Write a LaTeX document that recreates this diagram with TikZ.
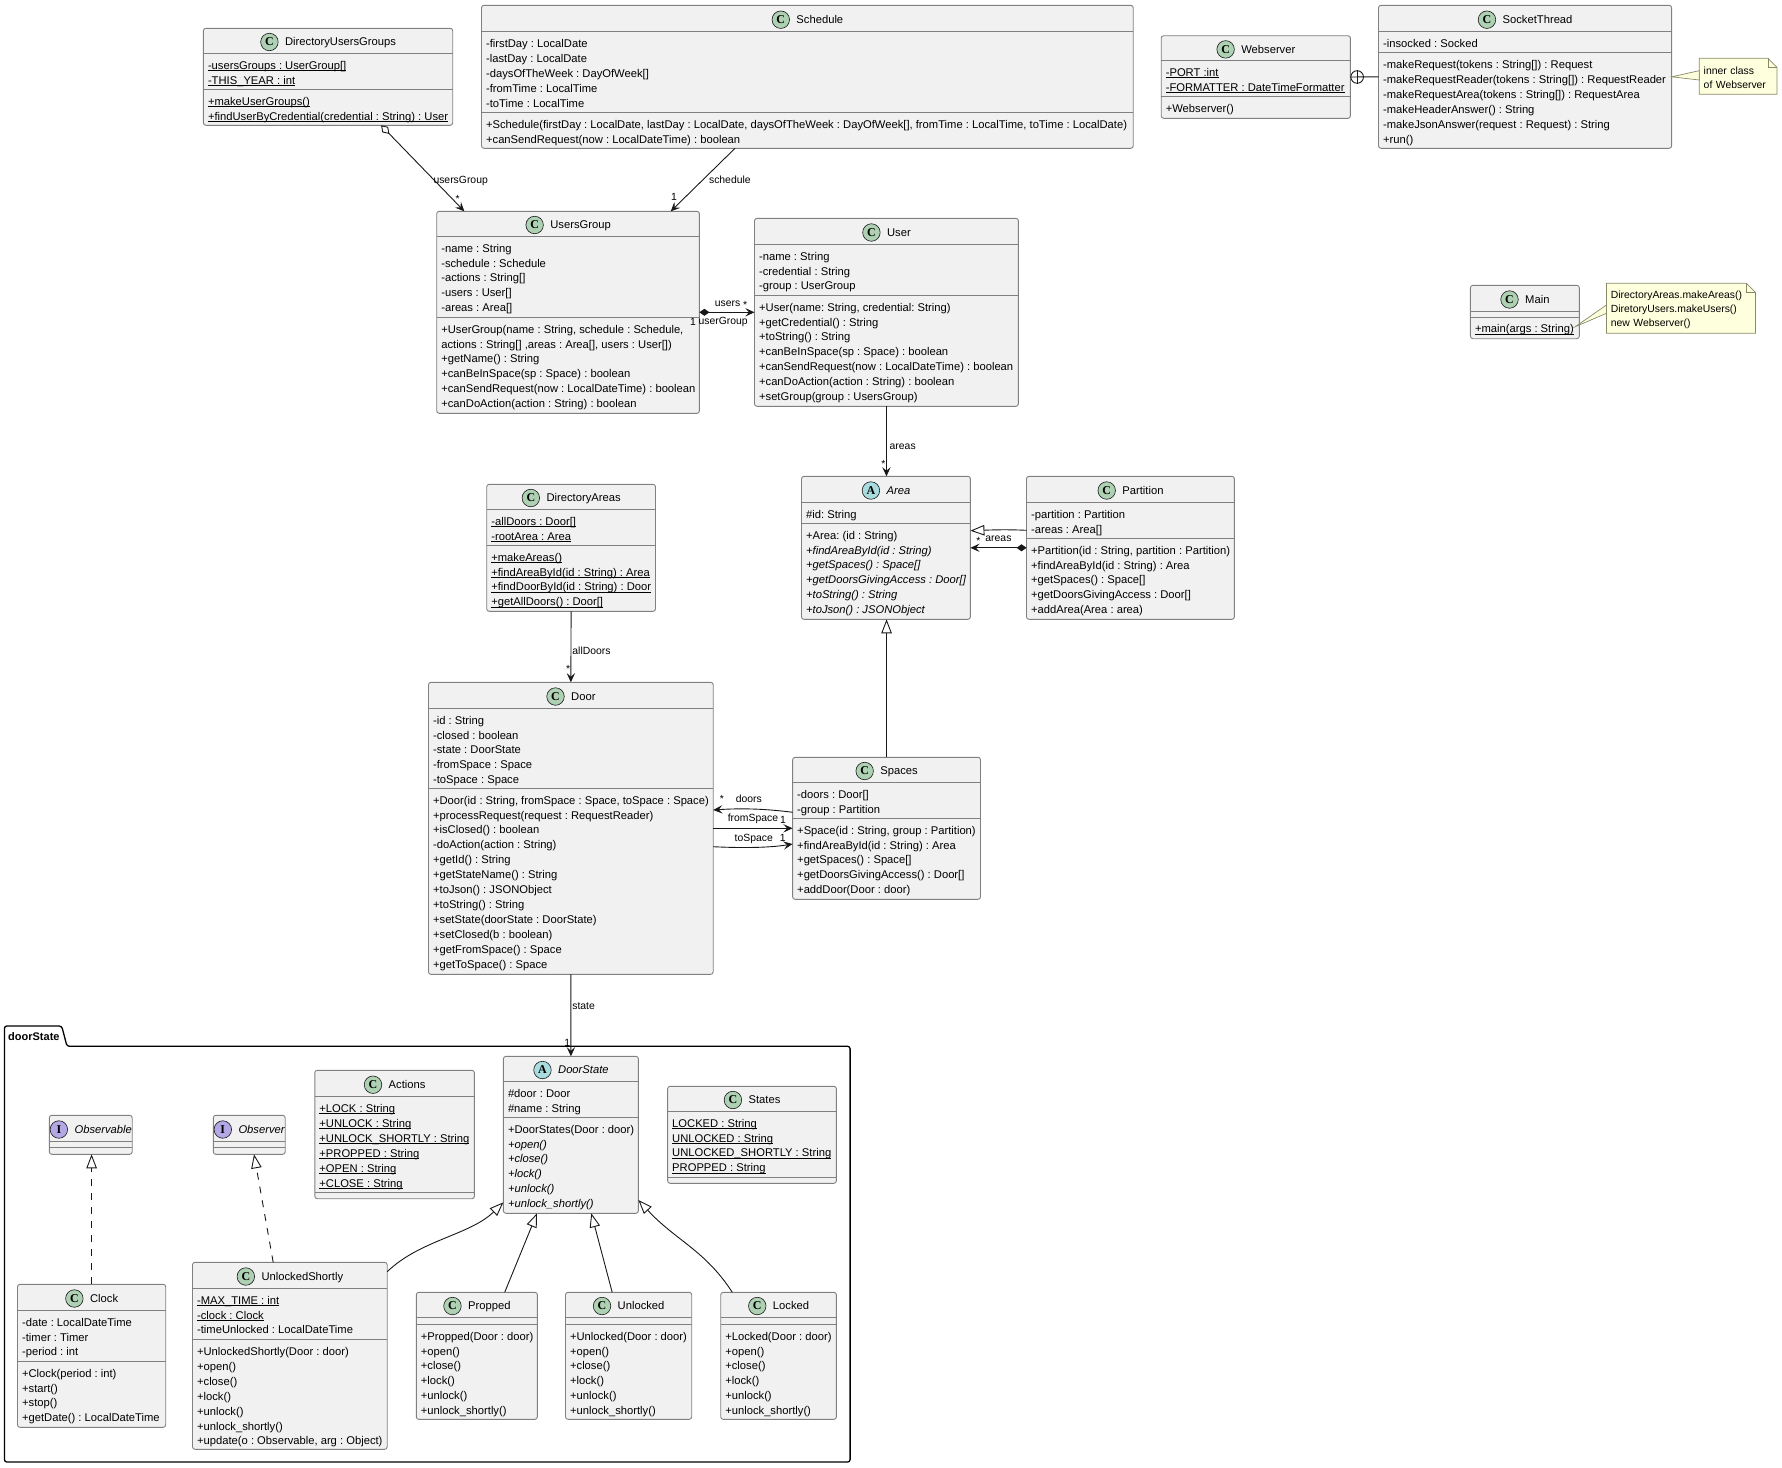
\documentclass[tikz,border=0pt]{standalone}
\usepackage{fontspec}
\setmainfont{Liberation Sans}
\newfontfamily\badgefont{Liberation Serif}
\usetikzlibrary{arrows.meta,positioning,calc}

\definecolor{classfill}{HTML}{F1F1F1}
\definecolor{classedge}{HTML}{808080}
\definecolor{wireblack}{HTML}{181818}
\definecolor{notefill}{HTML}{FEFFDD}
\definecolor{notedge}{HTML}{8A8A6A}
\definecolor{badgegreen}{HTML}{ADD1B2}
\definecolor{badgeblue}{HTML}{A9DCDF}
\definecolor{badgeviolet}{HTML}{B4A7E5}

\newcommand{\classfont}{\frenchspacing\fontsize{11.21}{14.9}\selectfont}
\newcommand{\wirefont}{\frenchspacing\fontsize{10.4}{13.8}\selectfont}
\newcommand{\undertext}[1]{\setbox0\hbox{#1}\rlap{\rule[-1.7pt]{\wd0}{.8pt}}\box0}

\tikzset{
  classbox/.style={draw=classedge, fill=classfill, line width=.9pt, rounded corners=2.5pt, inner sep=0pt, outer sep=0pt},
  classrule/.style={draw=classedge, line width=.9pt},
  classtitle/.style={font=\classfont, inner sep=0pt, text height=8pt, text depth=2.5pt},
  classrow/.style={font=\classfont, align=left, inner sep=0pt, anchor=north west},
  classbadge/.style={circle, draw=wireblack, line width=.6pt, minimum size=17.5pt, inner sep=0pt, font=\badgefont\bfseries\fontsize{12}{12}\selectfont},
  badgeC/.style={classbadge, fill=badgegreen},
  badgeA/.style={classbadge, fill=badgeblue},
  badgeI/.style={classbadge, fill=badgeviolet},
  lbl/.style={font=\wirefont, inner sep=0pt, text height=7.5pt, text depth=2pt},
  wire/.style={draw=wireblack, line width=.9pt},
  assoc/.style={wire, -{Stealth[length=9.2pt,width=8.3pt,inset=3.7pt]}},
  compose/.style={wire, {Diamond[length=10pt,width=7pt]}-{Stealth[length=9.2pt,width=8.3pt,inset=3.7pt]}},
  aggreg/.style={wire, {Diamond[open,length=12pt,width=8pt]}-{Stealth[length=9.2pt,width=8.3pt,inset=3.7pt]}},
  extends/.style={wire, -{Triangle[open,length=14pt,width=10.5pt]}},
  realize/.style={extends, dash pattern=on 7pt off 7pt},
  notebox/.style={draw=notedge, fill=notefill, line width=.7pt},
  notetext/.style={font=\wirefont, align=left, inner sep=4.5pt, outer sep=0pt, anchor=north west},
}

% name, left, top, right, bottom, first rule, second rule, badge, title
\newcommand{\umlclass}[9]{
  \node[classbox, minimum width=#4pt-#2pt, minimum height=#5pt-#3pt] (#1) at ({(#2+#4)/2},{(#3+#5)/2}) {};
  \draw[classrule] (#2,#6) -- (#4,#6);
  \draw[classrule] (#2,#7) -- (#4,#7);
  \coordinate (#1-s1) at (#2,#6);
  \coordinate (#1-s2) at (#2,#7);
  \node[classtitle] (#1-title) at ({(#2+#4)/2+12.5},{(#3+#6)/2+2.4}) {#9};
  \node[badge#8, xshift=-15.5pt, yshift=1.2pt] (#1-badge) at (#1-title.west) {#8};
}
% name, attributes, methods
\newcommand{\members}[3]{
  \node[classrow] (#1-attrs) at ([xshift=4.4pt,yshift=-5.1pt]#1-s1) {\rule{0pt}{10.5pt}#2};
  \node[classrow] (#1-meths) at ([xshift=4.4pt,yshift=-5.1pt]#1-s2) {\rule{0pt}{10.5pt}#3};
}
% name, left, top, right, bottom, text
\newcommand{\umlnote}[6]{
  \path[notebox] (#2,#3) -- ({#4-9},#3) -- (#4,{#3+9}) -- (#4,#5) -- (#2,#5) -- cycle;
  \draw[notebox, fill=none] ({#4-9},#3) -- ({#4-9},{#3+9}) -- (#4,{#3+9});
  \node[notetext, text width=#4pt-#2pt-9pt, minimum height=#5pt-#3pt] (#1) at (#2,#3) {\rule{0pt}{10.8pt}#6};
}

\begin{document}
\begin{tikzpicture}[x=1pt, y=-1pt]
\useasboundingbox (0,0) rectangle (1782,1467);

% package
\draw[line width=1.3pt, rounded corners=2.5pt] (4.4,1462) -- (4.4,1026) -- (61.7,1026) -- (67,1046.3) -- (850.1,1046.3) -- (850.1,1462) -- cycle;
\node[font=\bfseries\fontsize{11}{13}\selectfont, inner sep=0pt, anchor=base west] (doorStatePkg) at (8,1040) {doorState};

% classes
\umlclass{directoryUsersGroups}{203.4}{28.3}{452.7}{125.3}{53.3}{89.3}{C}{DirectoryUsersGroups}
\members{directoryUsersGroups}{\undertext{-usersGroups : UserGroup[]}\\\undertext{-THIS\_YEAR : int}}{\undertext{+makeUserGroups()}\\\undertext{+findUserByCredential(credential : String) : User}}

\umlclass{schedule}{481.5}{5.3}{1133.2}{148.3}{31.7}{112.3}{C}{Schedule}
\members{schedule}{-firstDay : LocalDate\\-lastDay : LocalDate\\-daysOfTheWeek : DayOfWeek[]\\-fromTime : LocalTime\\-toTime : LocalTime}{+Schedule(firstDay : LocalDate, lastDay : LocalDate, daysOfTheWeek : DayOfWeek[], fromTime : LocalTime, toTime : LocalDate)\\+canSendRequest(now : LocalDateTime) : boolean}

\umlclass{usersGroup}{436.7}{211.3}{699.4}{413.3}{236.3}{317.3}{C}{UsersGroup}
\members{usersGroup}{-name : String\\-schedule : Schedule\\-actions : String[]\\-users : User[]\\-areas : Area[]}{+UserGroup(name : String, schedule : Schedule,\\actions : String[] ,areas : Area[], users : User[])\\+getName() : String\\+canBeInSpace(sp : Space) : boolean\\+canSendRequest(now : LocalDateTime) : boolean\\+canDoAction(action : String) : boolean}

\umlclass{user}{754.5}{218.3}{1018.4}{406.3}{244.3}{295.3}{C}{User}
\members{user}{-name : String\\-credential : String\\-group : UserGroup}{+User(name: String, credential: String)\\+getCredential() : String\\+toString() : String\\+canBeInSpace(sp : Space) : boolean\\+canSendRequest(now : LocalDateTime) : boolean\\+canDoAction(action : String) : boolean\\+setGroup(group : UsersGroup)}

\umlclass{webserver}{1161.2}{35.7}{1350.4}{118.3}{60.7}{96.7}{C}{Webserver}
\members{webserver}{\undertext{-PORT :int}\\\undertext{-FORMATTER : DateTimeFormatter}}{+Webserver()}

\umlclass{socketThread}{1378.5}{5.3}{1671.6}{148.3}{31.7}{52.7}{C}{SocketThread}
\members{socketThread}{-insocked : Socked}{-makeRequest(tokens : String[]) : Request\\-makeRequestReader(tokens : String[]) : RequestReader\\-makeRequestArea(tokens : String[]) : RequestArea\\-makeHeaderAnswer() : String\\-makeJsonAnswer(request : Request) : String\\+run()}

\umlclass{mainClass}{1470.4}{285.3}{1579.3}{338.7}{311.3}{317}{C}{Main}
\members{mainClass}{}{\undertext{+main(args : String)}}

\umlclass{directoryAreas}{486.7}{484.3}{655.5}{611.3}{509.3}{545.3}{C}{DirectoryAreas}
\members{directoryAreas}{\undertext{-allDoors : Door[]}\\\undertext{-rootArea : Area}}{\undertext{+makeAreas()}\\\undertext{+findAreaById(id : String) : Area}\\\undertext{+findDoorById(id : String) : Door}\\\undertext{+getAllDoors() : Door[]}}

\umlclass{area}{801.5}{476.3}{970.4}{619.3}{502.3}{523.3}{A}{\textit{Area}}
\members{area}{\#id: String}{+Area: (id : String)\\\textit{+findAreaById(id : String)}\\\textit{+getSpaces() : Space[]}\\\textit{+getDoorsGivingAccess : Door[]}\\\textit{+toString() : String}\\\textit{+toJson() : JSONObject}}

\umlclass{partition}{1026.5}{476.3}{1234.4}{619.3}{502.3}{538.3}{C}{Partition}
\members{partition}{-partition : Partition\\-areas : Area[]}{+Partition(id : String, partition : Partition)\\+findAreaById(id : String) : Area\\+getSpaces() : Space[]\\+getDoorsGivingAccess : Door[]\\+addArea(Area : area)}

\umlclass{door}{428.5}{682.3}{713.2}{974.3}{708.3}{788.3}{C}{Door}
\members{door}{-id : String\\-closed : boolean\\-state : DoorState\\-fromSpace : Space\\-toSpace : Space}{+Door(id : String, fromSpace : Space, toSpace : Space)\\+processRequest(request : RequestReader)\\+isClosed() : boolean\\-doAction(action : String)\\+getId() : String\\+getStateName() : String\\+toJson() : JSONObject\\+toString() : String\\+setState(doorState : DoorState)\\+setClosed(b : boolean)\\+getFromSpace() : Space\\+getToSpace() : Space}

\umlclass{spaces}{792.6}{757.3}{980.5}{899.3}{782.3}{818.3}{C}{Spaces}
\members{spaces}{-doors : Door[]\\-group : Partition}{+Space(id : String, group : Partition)\\+findAreaById(id : String) : Area\\+getSpaces() : Space[]\\+getDoorsGivingAccess() : Door[]\\+addDoor(Door : door)}

\umlclass{doorStateCls}{503.4}{1056.3}{638.4}{1213.3}{1081.3}{1117.3}{A}{\textit{DoorState}}
\members{doorStateCls}{\#door : Door\\\#name : String}{+DoorStates(Door : door)\\\textit{+open()}\\\textit{+close()}\\\textit{+lock()}\\\textit{+unlock()}\\\textit{+unlock\_shortly()}}

\umlclass{actions}{314.8}{1070.3}{474.4}{1198.7}{1096.7}{1192.3}{C}{Actions}
\members{actions}{\undertext{+LOCK : String}\\\undertext{+UNLOCK : String}\\\undertext{+UNLOCK\_SHORTLY : String}\\\undertext{+PROPPED : String}\\\undertext{+OPEN : String}\\\undertext{+CLOSE : String}}{}

\umlclass{states}{667.6}{1086.3}{836.4}{1183.3}{1111.3}{1177.3}{C}{States}
\members{states}{\undertext{LOCKED : String}\\\undertext{UNLOCKED : String}\\\undertext{UNLOCKED\_SHORTLY : String}\\\undertext{PROPPED : String}}{}

\umlclass{observable}{49.3}{1115.3}{132.2}{1154.3}{1141.3}{1147.3}{I}{\textit{Observable}}
\umlclass{observer}{213.3}{1115.3}{285.2}{1154.3}{1141.3}{1147.3}{I}{\textit{Observer}}

\umlclass{clock}{17.5}{1284.3}{165.7}{1427.3}{1310.3}{1361.3}{C}{Clock}
\members{clock}{-date : LocalDateTime\\-timer : Timer\\-period : int}{+Clock(period : int)\\+start()\\+stop()\\+getDate() : LocalDateTime}

\umlclass{unlockedShortly}{192.5}{1262.3}{387.2}{1449.3}{1288.3}{1339.7}{C}{UnlockedShortly}
\members{unlockedShortly}{\undertext{-MAX\_TIME : int}\\\undertext{-clock : Clock}\\-timeUnlocked : LocalDateTime}{+UnlockedShortly(Door : door)\\+open()\\+close()\\+lock()\\+unlock()\\+unlock\_shortly()\\+update(o : Observable, arg : Object)}

\umlclass{propped}{416.3}{1292.3}{537.4}{1419.3}{1317.3}{1324.3}{C}{Propped}
\members{propped}{}{+Propped(Door : door)\\+open()\\+close()\\+lock()\\+unlock()\\+unlock\_shortly()}

\umlclass{unlocked}{565.5}{1292.3}{691.7}{1419.3}{1317.3}{1324.3}{C}{Unlocked}
\members{unlocked}{}{+Unlocked(Door : door)\\+open()\\+close()\\+lock()\\+unlock()\\+unlock\_shortly()}

\umlclass{locked}{720.7}{1292.3}{836.4}{1419.3}{1317.3}{1324.3}{C}{Locked}
\members{locked}{}{+Locked(Door : door)\\+open()\\+close()\\+lock()\\+unlock()\\+unlock\_shortly()}

% notes
\umlnote{innerNote}{1699.2}{58.3}{1777}{94.3}{inner class\\of Webserver}
\umlnote{mainNote}{1606.4}{283.3}{1755.5}{333.3}{DirectoryAreas.makeAreas()\\DiretoryUsers.makeUsers()\\new Webserver()}
\draw[notebox] (socketThread.east) -- ([yshift=5.6pt]innerNote.west) -- ([yshift=-3.7pt]innerNote.west) -- cycle;
\draw[notebox] ([shift={(-4pt,-14.7pt)}]mainClass.east) -- ([yshift=3.3pt]mainNote.west) -- ([yshift=-5pt]mainNote.west) -- cycle;

% connectors
\draw[aggreg] ([xshift=53pt]directoryUsersGroups.south) -- ([xshift=-103.7pt]usersGroup.north)
  node[lbl, right=-1.8pt, pos=.646] (lblUsersGroup) {usersGroup}
  node[lbl, right=2.5pt, pos=.86] (lblUsersGroupN) {*};
\draw[assoc] ([xshift=-72.35pt]schedule.south) -- ([xshift=102.7pt]usersGroup.north)
  node[lbl, right=6.5pt, pos=.512] (lblSchedule) {schedule}
  node[lbl, left=7pt, pos=.79] (lblScheduleN) {1};
\draw[compose] (usersGroup.east) -- (user.west)
  node[lbl, above=3.5pt, pos=.51] (lblUsers) {users}
  node[lbl, above=1pt, pos=.83] (lblUsersN) {*}
  node[lbl, below=4.65pt, pos=.43] (lblUserGroup) {userGroup}
  node[lbl, below=5.6pt, pos=0, xshift=-6.4pt] (lblUserGroupN) {1};
\draw[assoc] (user.south) -- (user.south |- area.north)
  node[lbl, right=2.8pt, pos=.577] (lblAreas) {areas}
  node[lbl, left=.5pt, pos=.84] (lblAreasN) {*};
\draw[assoc] (directoryAreas.south) -- (door.north)
  node[lbl, right=1pt, pos=.57] (lblAllDoors) {allDoors}
  node[lbl, left=.2pt, pos=.83] (lblAllDoorsN) {*};
\draw[extends] ([yshift=17.5pt]partition.west) .. controls (1005,529.3) and (990,530) .. ([yshift=17.1pt]area.east);
\draw[compose] (partition.west) -- (area.east)
  node[lbl, above=3.75pt, pos=.5] (lblSubAreas) {areas}
  node[lbl, above=.55pt, pos=.856] (lblSubAreasN) {*};
\draw[extends] (spaces.north) -- (spaces.north |- area.south);
\draw[assoc] ([yshift=16pt]spaces.west) .. controls (760,808) and (735,808.5) .. ([yshift=18.3pt]door.east)
  node[lbl, above=4.35pt, pos=.5] (lblDoors) {doors}
  node[lbl, above=4.35pt, pos=.87] (lblDoorsN) {*};
\draw[assoc] (door.east) -- (spaces.west)
  node[lbl, above=4.25pt, pos=.5] (lblFromSpace) {fromSpace}
  node[lbl, above=2.55pt, pos=.88] (lblFromSpaceN) {1};
\draw[assoc] ([yshift=-18.4pt]door.east) .. controls (740,848) and (768,848) .. ([yshift=-15.7pt]spaces.west)
  node[lbl, above=3.35pt, pos=.5] (lblToSpace) {toSpace}
  node[lbl, above=1.25pt, pos=.87] (lblToSpaceN) {1};
\draw[assoc] (door.south) -- (doorStateCls.north)
  node[lbl, right=1pt, pos=.4] (lblState) {state}
  node[lbl, left=.3pt, pos=.85] (lblStateN) {1};

\node[circle, draw=wireblack, line width=.9pt, minimum size=12.6pt, inner sep=0pt, right=0pt of webserver] (nest) {};
\draw[wire] (nest.north) -- (nest.south);
\draw[wire] (nest.west) -- (socketThread.west);

\draw[realize] (clock.north) -- (clock.north |- observable.south);
\draw[realize] ([xshift=-16.65pt]unlockedShortly.north) -- ([xshift=4.75pt]observer.south);
\draw[extends] ([yshift=-9.4pt]unlockedShortly.north east) .. controls (420,1240) and (470,1235) .. ([yshift=11pt]doorStateCls.south west);
\draw[extends] ([xshift=27.85pt]propped.north) -- ([xshift=-33.9pt]doorStateCls.south);
\draw[extends] ([xshift=-16.4pt]unlocked.north) -- ([xshift=20.4pt]doorStateCls.south);
\draw[extends] ([xshift=-46.25pt]locked.north) .. controls (705,1250) and (675,1240) .. ([yshift=13.3pt]doorStateCls.south east);
\end{tikzpicture}
\end{document}
